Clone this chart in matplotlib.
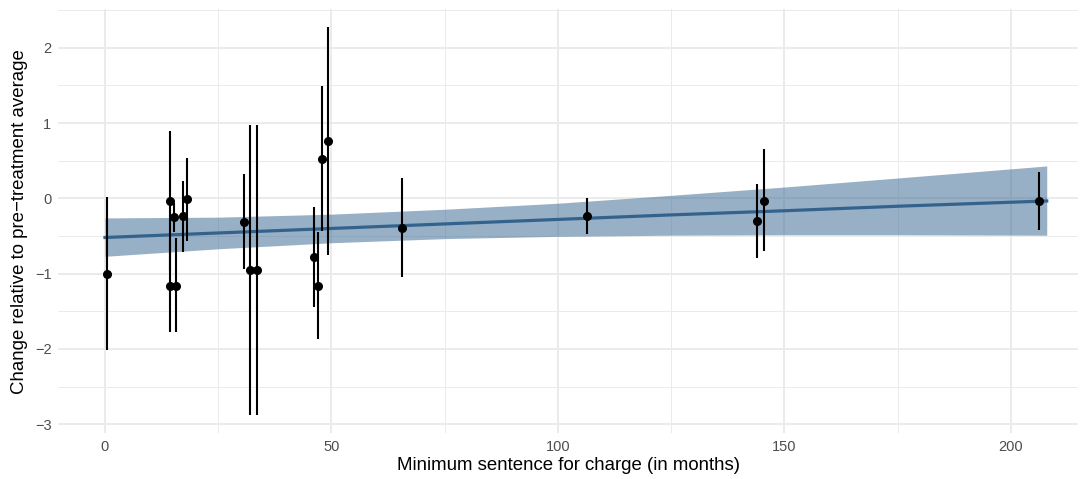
import numpy as np
import matplotlib.pyplot as plt

plt.rcParams['font.family'] = ['Liberation Sans', 'DejaVu Sans']

# estimates with intervals
sentence = [0.5, 14.4, 14.4, 15.2, 15.6, 17.3, 18.1, 30.7, 32.0, 33.6,
            46.1, 47.1, 47.8, 49.3, 65.6, 106.3, 143.9, 145.4, 206.1]
estimate = [-1.0, -0.04, -1.16, -0.25, -1.16, -0.23, -0.01, -0.32, -0.95, -0.95,
            -0.78, -1.16, 0.52, 0.76, -0.39, -0.23, -0.30, -0.03, -0.04]
lower = [-2.02, -0.96, -1.77, -0.45, -1.77, -0.71, -0.56, -0.94, -2.88, -2.88,
         -1.44, -1.87, -0.44, -0.75, -1.05, -0.47, -0.79, -0.70, -0.42]
upper = [0.02, 0.89, -0.55, -0.06, -0.53, 0.23, 0.54, 0.32, 0.97, 0.97,
         -0.11, -0.45, 1.49, 2.27, 0.27, 0.01, 0.19, 0.65, 0.35]

# fitted line and its confidence band
fit_x = [0, 25, 50, 75, 100, 125, 150, 175, 207.9]
fit_y = [-0.52, -0.46, -0.40, -0.34, -0.28, -0.22, -0.165, -0.105, -0.035]
band_lo = [-0.77, -0.67, -0.59, -0.535, -0.505, -0.49, -0.485, -0.485, -0.49]
band_hi = [-0.26, -0.25, -0.21, -0.145, -0.065, 0.04, 0.15, 0.27, 0.43]

col = '#33638D'

fig = plt.figure(figsize=(10.82, 4.79), dpi=100)
ax = fig.add_axes([0.0539, 0.0954, 0.9424, 0.8852])

ax.fill_between(fit_x, band_lo, band_hi, color=col, alpha=0.5, lw=0, zorder=2)
ax.plot(fit_x, fit_y, color=col, lw=2.3, zorder=3)
ax.vlines(sentence, lower, upper, color='black', lw=1.5, zorder=4)
ax.plot(sentence, estimate, 'o', color='black', ms=5.5, zorder=5)

ax.set_xlim(-10.3, 214.8)
ax.set_ylim(-3.12, 2.51)
ax.set_xticks([0, 50, 100, 150, 200])
ax.set_xticks([25, 75, 125, 175], minor=True)
ax.set_yticks([-3, -2, -1, 0, 1, 2])
ax.set_yticks([-2.5, -1.5, -0.5, 0.5, 1.5, 2.5], minor=True)

ax.grid(which='major', color='#EBEBEB', lw=1.4, zorder=0)
ax.grid(which='minor', color='#EBEBEB', lw=0.7, zorder=0)
ax.set_axisbelow(True)
for s in ax.spines.values():
    s.set_visible(False)
ax.tick_params(which='both', length=0, labelsize=10.5, labelcolor='#4D4D4D', pad=5)

ax.set_xlabel('Minimum sentence for charge (in months)', fontsize=13.4, labelpad=2)
ax.set_ylabel('Change relative to pre\u2212treatment average', fontsize=13.4, labelpad=5)

fig.savefig('out.png', dpi=100)
